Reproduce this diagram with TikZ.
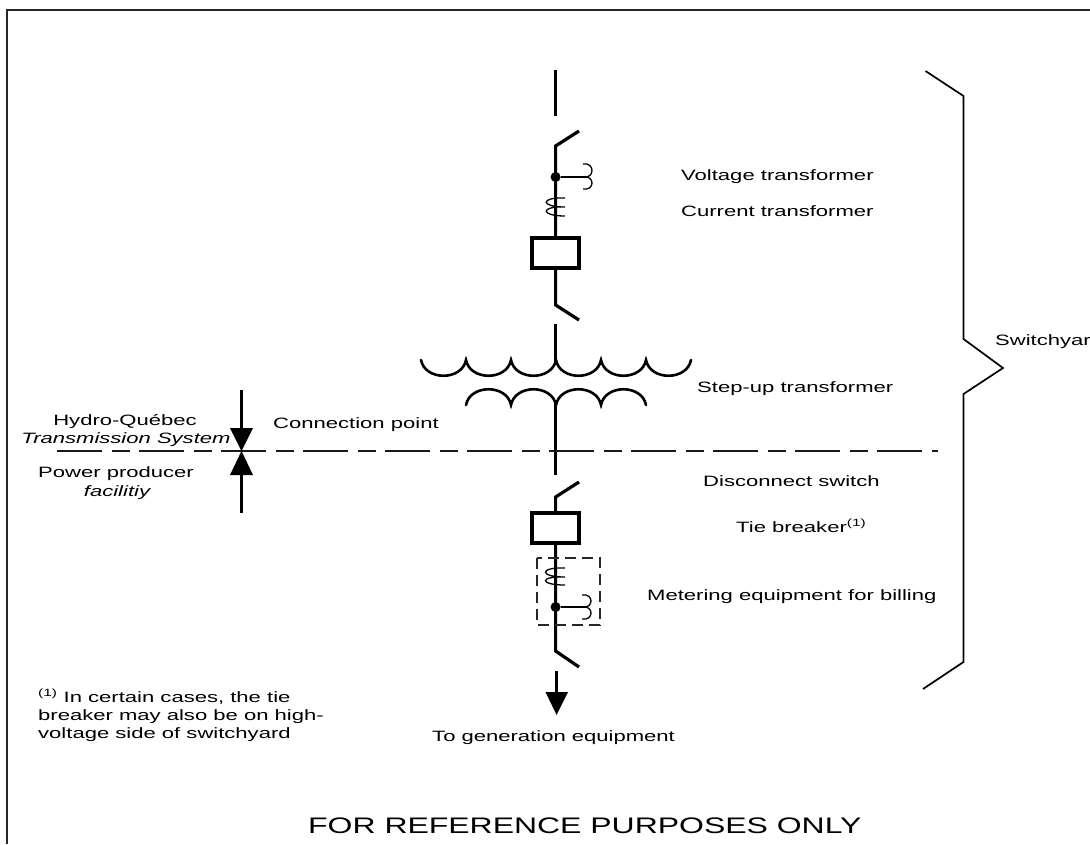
\documentclass[tikz,border=0pt]{standalone}
\usepackage{fontspec}
\setmainfont[FakeStretch=1.47]{Liberation Sans}
\newfontfamily\reffont[FakeStretch=1.42]{Liberation Sans}
\tikzset{
  lbl/.style={anchor=base west,inner sep=0pt,font=\fontsize{15}{18}\selectfont,align=left},
  lblc/.style={anchor=base,inner sep=0pt,font=\fontsize{15}{18}\selectfont,align=center},
  bus/.style={line width=3.2pt,black},
  coil/.style={line width=1.3pt,black},
  wind/.style={line width=2.6pt,black,line cap=round},
  brace/.style={line width=1.7pt,black,line join=miter},
  brk/.style={draw=black,line width=3.2pt,fill=white,minimum width=47pt,minimum height=30pt,inner sep=0pt},
  jdot/.style={circle,fill=black,minimum size=10pt,inner sep=0pt},
  tri/.style={fill=black,draw=none}
}
\begin{document}
\begin{tikzpicture}[x=1pt,y=-1pt]
\useasboundingbox (0,0) rectangle (1090,844);
% frame
\coordinate (fa) at (7,844); \coordinate (fb) at (7,10); \coordinate (fc) at (1090,10);
\draw[line width=1.1pt,black!85] (fa) -- (fb) -- (fc);
% upper line
\coordinate (l1a) at (555.6,70); \coordinate (l1b) at (555.6,116);
\draw[bus] (l1a) -- (l1b);
\node[brk] (brk1) at (555.5,253) {};
\node[brk] (brk2) at (555.5,528) {};
\coordinate (sw1t) at (579,131); \coordinate (sw1k) at (555.6,146);
\draw[bus,line join=miter] (sw1t) -- (sw1k) -- (brk1.north -| sw1k);
\coordinate (sw2k) at (555.6,305); \coordinate (sw2t) at (579,320);
\draw[bus,line join=miter] (brk1.south -| sw2k) -- (sw2k) -- (sw2t);
% voltage transformer
\node[jdot] (vt1) at (555.6,177) {};
\coordinate (vt1e) at (587,177);
\draw[coil] (vt1) -- (vt1e);
\draw[coil] (583,164) .. controls (595,162) and (595,179) .. (583,177)
            .. controls (595,175) and (595,191) .. (583,189);
% current transformer
\draw[coil] (565,198) .. controls (540,197) and (540,207) .. (565,207)
            .. controls (540,206) and (540,216) .. (565,216);
% transformer
\coordinate (tra) at (555.6,324); \coordinate (trb) at (555.6,362);
\draw[bus] (tra) -- (trb);
\draw[wind] (421,360) .. controls (425,381) and (462,381) .. (466,360)
  .. controls (470,381) and (507,381) .. (511,360)
  .. controls (515,381) and (552,381) .. (556,360)
  .. controls (560,381) and (597,381) .. (601,360)
  .. controls (605,381) and (642,381) .. (646,360)
  .. controls (650,381) and (687,381) .. (691,360);
\draw[wind] (466,405) .. controls (470,384) and (507,384) .. (511,405)
  .. controls (515,384) and (552,384) .. (556,405)
  .. controls (560,384) and (597,384) .. (601,405)
  .. controls (605,384) and (642,384) .. (646,405);
\coordinate (trc) at (555.6,403); \coordinate (trd) at (555.6,475);
\draw[bus] (trc) -- (trd);
% connection line
\coordinate (da) at (57,451); \coordinate (db) at (938,451);
\draw[line width=1.2pt,black!90,dash pattern=on 45pt off 10pt on 18pt off 9pt] (da) -- (db);
% lower part
\coordinate (sw3t) at (579,482); \coordinate (sw3k) at (555.6,497);
\draw[bus,line join=miter] (sw3t) -- (sw3k) -- (brk2.north -| sw3k);
\coordinate (sw4k) at (555.6,651); \coordinate (sw4t) at (579,667);
\draw[bus,line join=miter] (brk2.south -| sw4k) -- (sw4k) -- (sw4t);
\coordinate (mb1) at (537,558); \coordinate (mb2) at (600,625);
\draw[line width=1.2pt,black!85,dash pattern=on 11pt off 6pt] (mb1) rectangle (mb2);
\draw[coil] (565,568) .. controls (539,567) and (539,577) .. (565,577)
            .. controls (539,576) and (539,585) .. (565,585);
\node[jdot] (vt2) at (555.6,607) {};
\coordinate (vt2e) at (587,607);
\draw[coil] (vt2) -- (vt2e);
\draw[coil] (582,595) .. controls (594,593) and (594,609) .. (582,607)
            .. controls (594,605) and (594,621) .. (582,619);
% arrow to generation
\coordinate (ga) at (556.6,671); \coordinate (gb) at (556.6,693);
\draw[bus] (ga) -- (gb);
\fill[tri] (545.5,692) -- (568,692) -- (556.6,715) -- cycle;
% boundary arrows
\coordinate (ca) at (241.5,390); \coordinate (cb) at (241.5,430);
\coordinate (cc) at (241.5,513); \coordinate (cd) at (241.5,474);
\draw[bus] (ca) -- (cb);
\draw[bus] (cc) -- (cd);
\fill[tri] (230,428) -- (253,428) -- (241.5,451) -- cycle;
\fill[tri] (230,475) -- (253,475) -- (241.5,451) -- cycle;
% brace
\coordinate (b1) at (925.5,71); \coordinate (b2) at (963.5,96); \coordinate (b3) at (963.5,339);
\coordinate (b4) at (1003,368); \coordinate (b5) at (963.5,394); \coordinate (b6) at (963.5,662);
\coordinate (b7) at (923,689);
\draw[brace] (b1) -- (b2) -- (b3) -- (b4) -- (b5) -- (b6) -- (b7);
% labels
\node[lbl] (t1) at (681,180) {Voltage transformer};
\node[lbl] (t2) at (681,216) {Current transformer};
\node[lbl] (t3) at (697,392) {Step-up transformer};
\node[lbl] (t4) at (273,428) {Connection point};
\node[lbl] (t5) at (703,486) {Disconnect switch};
\node[lbl] (t6) at (736,532) {Tie breaker\textsuperscript{(1)}};
\node[lbl] (t7) at (647,600) {Metering equipment for billing};
\node[lbl] (t8) at (432,741) {To generation equipment};
\node[lbl] (t9) at (995,345) {Switchyar};
\node[lblc] (h1) at (125,425) {Hydro-Québec};
\node[lblc] (h2) at (126,443) {\itshape Transmission System};
\node[lblc] (h3) at (116,477) {Power producer};
\node[lblc] (h4) at (117,496) {\itshape facilitiy};
\node[lbl] (n1) at (38,702) {\textsuperscript{(1)} In certain cases, the tie};
\node[lbl] (n2) at (38,720) {breaker may also be on high-};
\node[lbl] (n3) at (38,738) {voltage side of switchyard};
\node[anchor=base west,inner sep=0pt,font=\reffont\fontsize{22.5}{24}\selectfont] (ref) at (308,833) {FOR REFERENCE PURPOSES ONLY};
\end{tikzpicture}
\end{document}
